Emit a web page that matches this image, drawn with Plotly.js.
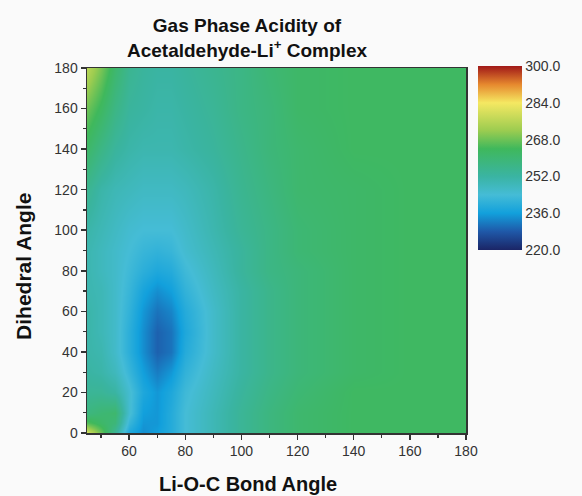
<!DOCTYPE html>
<html>
<head>
<meta charset="utf-8">
<script src="https://cdn.plot.ly/plotly-3.0.1.min.js"></script>
<style>html,body{margin:0;padding:0;background:#fafafa;}#chart{width:582px;height:496px;}</style>
</head>
<body>
<div id="chart"></div>
<script>
// Li-O-C bond angle (x) and dihedral angle (y) grid
const bondAngle = [45, 50, 55, 60, 65, 70, 75, 80, 90, 100, 110, 120, 140, 160, 180];
const dihedral = [0, 5, 10, 20, 30, 40, 50, 60, 70, 80, 90, 100, 120, 140, 160, 180];
// Gas phase acidity values, one row per dihedral angle
const acidity = [
  [280, 268, 254, 238, 234, 236, 239, 244, 249, 254, 258, 261, 263, 263, 263],
  [266, 262, 259, 242, 235, 235, 239, 244, 249, 254, 258, 261, 263, 263, 263],
  [258, 260, 261, 245, 236, 235, 239, 244, 249, 254, 258, 261, 263, 263, 263],
  [254, 254, 252, 245, 238, 235, 238, 243, 248, 253, 257, 260, 263, 263, 263],
  [252, 251, 248, 242, 236, 232, 235, 241, 247, 252, 256, 259, 262, 263, 263],
  [251, 250, 246, 240, 234, 229, 231, 239, 246, 252, 256, 259, 262, 263, 263],
  [251, 249, 246, 240, 234, 229, 231, 238, 246, 252, 256, 259, 262, 263, 263],
  [251, 249, 246, 241, 235, 231, 233, 239, 246, 252, 256, 259, 262, 263, 263],
  [250, 249, 246, 242, 237, 234, 236, 241, 247, 252, 256, 259, 262, 263, 263],
  [250, 248, 246, 243, 240, 238, 239, 243, 248, 253, 257, 259, 262, 263, 263],
  [250, 248, 246, 244, 242, 241, 242, 245, 249, 253, 257, 260, 262, 263, 263],
  [251, 249, 247, 245, 244, 244, 244, 246, 250, 254, 257, 260, 262, 263, 263],
  [255, 251, 249, 248, 247, 247, 247, 248, 251, 255, 258, 261, 262, 263, 263],
  [262, 257, 253, 251, 250, 250, 250, 251, 253, 256, 259, 261, 263, 263, 263],
  [268, 263, 257, 253, 252, 251, 251, 252, 254, 257, 259, 262, 263, 263, 263],
  [276, 269, 261, 255, 253, 252, 252, 253, 255, 257, 260, 262, 263, 263, 263]
];
const colorbarTicks = [220, 236, 252, 268, 284, 300];
const colorbarLabels = ['220.0', '236.0', '252.0', '268.0', '284.0', '300.0'];

const scale = [
  [0.0, '#1b2566'],
  [0.1, '#1f58a8'],
  [0.2, '#12a0dc'],
  [0.3, '#45bcd6'],
  [0.4, '#3ab4a2'],
  [0.55, '#3fb85c'],
  [0.65, '#9ccc50'],
  [0.8, '#f5e862'],
  [0.9, '#e6882e'],
  [1.0, '#a01818']
];

const font = 'Liberation Sans, Arial, sans-serif';

const trace = {
  type: 'heatmap',
  x: bondAngle,
  y: dihedral,
  z: acidity,
  zmin: 220,
  zmax: 300,
  zsmooth: 'best',
  colorscale: scale,
  colorbar: {
    x: 1.032, xanchor: 'left', xpad: 0,
    y: 1.005, yanchor: 'top', ypad: 0,
    len: 184, lenmode: 'pixels',
    thickness: 44, thicknessmode: 'pixels',
    outlinewidth: 0,
    tickvals: colorbarTicks,
    ticktext: colorbarLabels,
    ticks: '',
    tickfont: {family: font, size: 14, color: '#333'}
  }
};

const axisCommon = {
  showgrid: false, zeroline: false,
  showline: true, linecolor: '#333', linewidth: 1.5, mirror: true,
  ticks: 'outside', ticklen: 5, tickwidth: 1.5, tickcolor: '#333',
  tickfont: {family: font, size: 14, color: '#333'},
  minor: {ticks: 'outside', ticklen: 3, tickwidth: 1.2, tickcolor: '#333', dtick: 10}
};

const layout = {
  width: 582, height: 496,
  paper_bgcolor: '#fafafa', plot_bgcolor: '#fafafa',
  margin: {l: 87, r: 116, t: 68, b: 63},
  title: {
    text: '<b>Gas Phase Acidity of<br>Acetaldehyde-Li<sup>+</sup> Complex</b>',
    x: (247-87)/379, xanchor: 'center', xref: 'paper',
    y: 1.0, yanchor: 'bottom', yref: 'paper',
    pad: {b: 36},
    font: {family: font, size: 19, color: '#111'}
  },
  xaxis: Object.assign({}, axisCommon, {range: [45, 180], tickvals: [60, 80, 100, 120, 140, 160, 180]}),
  yaxis: Object.assign({}, axisCommon, {range: [0, 180], dtick: 20}),
  annotations: [
    {text: '<b>Li-O-C Bond Angle</b>', xref: 'paper', yref: 'paper', x: (248-87)/379, y: -0.104,
     xanchor: 'center', yanchor: 'top', showarrow: false,
     font: {family: font, size: 20, color: '#111'}},
    {text: '<b>Dihedral Angle</b>', xref: 'paper', yref: 'paper', x: -0.169, y: (433-266)/365,
     xanchor: 'center', yanchor: 'middle', textangle: -90, showarrow: false,
     font: {family: font, size: 21, color: '#111'}}
  ]
};

Plotly.newPlot('chart', [trace], layout, {displayModeBar: false, staticPlot: true});
</script>
</body>
</html>
